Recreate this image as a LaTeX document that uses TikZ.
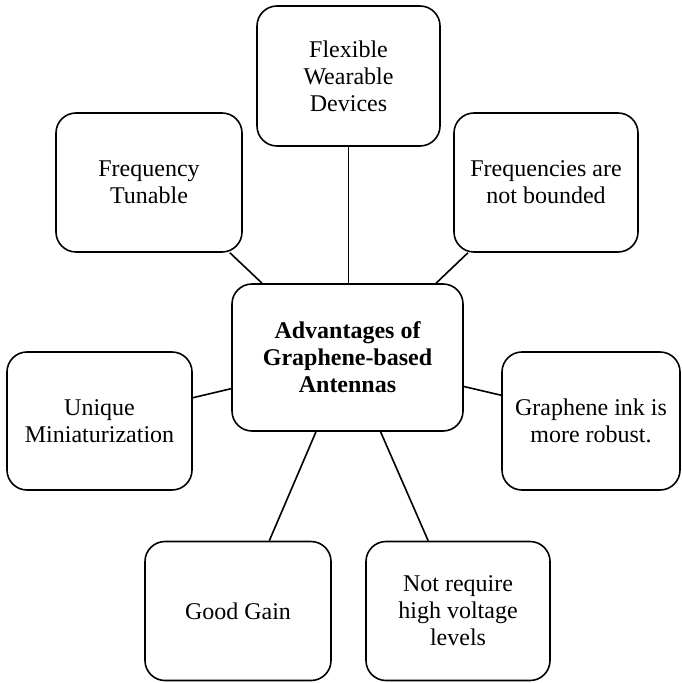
\documentclass[tikz,border=0pt]{standalone}
\usepackage{fontspec}
\setmainfont{Liberation Serif}
\usepackage{tikz}
\tikzstyle{advbox} = [draw=black, line width=0.8pt, rectangle, rounded corners=10pt, align=center, font=\fontsize{12}{13.5}\selectfont]
\tikzstyle{link} = [draw=black, line width=0.8pt]

\begin{document}
\begin{tikzpicture}[x=0.5pt, y=-0.5pt]
        \useasboundingbox (0,0) rectangle (681,683);
        % centre box
        \node [advbox, minimum width=115.5pt, minimum height=73.5pt, font=\fontsize{12}{13.5}\selectfont\bfseries] (adv) at (347.5,357.5) {Advantages of\\Graphene-based\\Antennas};
        % the seven advantages round it
        \node [advbox, minimum width=91.5pt, minimum height=70pt] (flex) at (348.5,76) {Flexible\\Wearable\\Devices};
        \node [advbox, minimum width=93pt, minimum height=69.5pt] (tune) at (149,182.5) {Frequency\\Tunable};
        \node [advbox, minimum width=92pt, minimum height=69.5pt] (bound) at (546,182.5) {Frequencies are\\not bounded};
        \node [advbox, minimum width=92.5pt, minimum height=69pt] (mini) at (99.5,421) {Unique\\Miniaturization};
        \node [advbox, minimum width=89pt, minimum height=69pt] (ink) at (591,421) {Graphene ink is\\more robust.};
        \node [advbox, minimum width=93pt, minimum height=69.5pt] (gain) at (238,611) {Good Gain};
        \node [advbox, minimum width=92pt, minimum height=69.5pt] (volt) at (458,611) {Not require\\high voltage\\levels};
        % spokes
        \draw [link] (flex.south) -- (flex.south |- adv.north);
        \draw [link] (tune.-41.7) -- (adv.139);
        \draw [link] (bound.-138.3) -- (adv.40.7);
        \draw [link] (mini.14.5) -- (adv.-165.2);
        \draw [link] (ink.164.7) -- (adv.-14.3);
        \draw [link] (adv.-113.9) -- (gain.66.6);
        \draw [link] (adv.-66.1) -- (volt.113.4);
    \end{tikzpicture}
\end{document}
